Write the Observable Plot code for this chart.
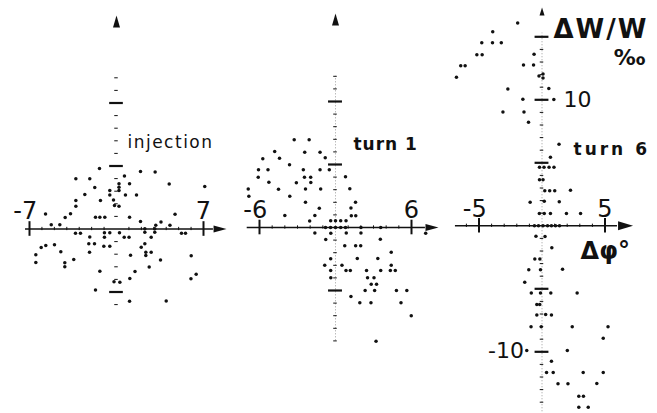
<!DOCTYPE html>
<html>
<head>
<meta charset="utf-8">
<script src="https://cdn.jsdelivr.net/npm/d3@7"></script>
<script src="https://cdn.jsdelivr.net/npm/@observablehq/plot@0.6"></script>
<style>
  body { margin: 0; background: #fff; }
  #chart { position: relative; width: 657px; height: 413px; background: #fff; overflow: hidden; }
</style>
</head>
<body>
<div id="chart"></div>
<script>
// ---- Data: phase-space points [Δφ (deg), ΔW/W (‰)] ----
const injection = [
  [-1.37,4.80],[0.64,4.21],[1.93,4.56],[3.11,4.52],[-3.27,3.98],[-2.15,3.98],[-1.75,3.29],[1.05,3.59],[4.24,3.57],[7.10,3.37],
  [-2.55,2.74],[-1.29,2.26],[-0.54,3.06],[-0.54,2.70],[0.20,3.59],[0.20,3.32],[0.20,3.06],[0.72,2.70],[1.61,2.70],[-3.27,2.26],
  [-3.27,1.81],[-0.24,2.30],[-0.16,1.87],[0.20,1.81],[-3.70,1.21],[-4.13,0.91],[-5.71,1.19],[-5.25,0.33],[-4.56,0.33],[-1.69,0.94],
  [-1.34,0.94],[-0.94,0.94],[1.05,0.94],[1.93,0.60],[3.58,0.56],[3.16,0.30],[4.30,0.30],[4.71,1.17],
  [-3.30,-0.33],[-2.90,-0.33],[-2.15,-0.63],[-2.23,-1.17],[-1.77,-1.17],[-2.17,-1.84],[-0.97,-0.30],[-0.97,-0.65],[-1.02,-1.37],[-0.54,-1.37],
  [-0.54,-0.30],[0.24,-0.30],[0.62,-0.65],[1.01,-0.65],[2.28,0.02],[2.28,-0.25],[3.08,0.02],[3.08,-0.25],[2.79,-0.65],[5.23,-0.33],[5.55,-0.33],
  [2.28,-1.17],[1.99,-1.44],[2.36,-1.84],[2.36,-2.10],[2.79,-1.84],[1.13,-2.08],[3.54,-2.46],[6.01,-2.13],[2.63,-3.02],[1.49,-3.37],[1.07,-3.93],
  [6.41,-3.60],[5.99,-3.95],[-0.20,-4.19],[0.27,-4.22],[1.05,-5.73],[4.00,-5.71],[-5.69,-1.31],[-6.06,-1.47],[-4.99,-1.25],[-6.49,-2.05],
  [-6.49,-2.66],[-4.48,-1.81],[-4.16,-2.68],[-4.16,-3.00],[-3.44,-2.42],[-1.34,-3.35],[-1.69,-4.84]
];
const turn1 = [
  [-3.26,6.97],[-2.08,6.97],[-4.80,6.03],[-2.43,5.97],[-1.22,5.97],[-5.74,5.46],[-4.42,5.49],[-0.81,5.53],[-3.63,4.98],[-6.08,4.58],
  [-5.33,4.58],[-2.54,4.58],[-1.22,4.58],[-0.49,4.58],[-6.10,3.99],[-5.26,3.60],[-2.45,3.98],[-1.96,3.98],[-3.09,3.55],[-1.95,3.57],
  [0.79,4.02],[-6.89,3.06],[-4.50,3.04],[-2.37,3.06],[-1.17,3.06],[1.13,3.07],[-6.84,2.48],[-3.61,2.48],[-2.37,2.01],[1.58,2.01],
  [-1.28,1.53],[1.22,1.55],[-4.00,0.95],[-1.63,0.95],[1.25,0.93],[1.60,0.93],[-2.04,0.52],[-0.38,0.53],[0,0.53],[0.41,0.53],
  [0.83,0.53],[-0.79,0],[-0.39,0],[0,0],[0.41,0],[0.79,0],[2.01,0],[3.57,0],[-1.63,-0.44],[-0.37,-0.46],
  [0.85,-0.44],[2.01,-0.44],[-0.77,-0.95],[3.54,-0.93],[0.73,-1.45],[1.59,-1.45],[1.99,-1.45],[4.40,-1.96],[-0.38,-2.48],[1.72,-2.46],
  [3.34,-2.46],[-0.85,-2.99],[0.51,-2.99],[4.40,-2.99],[-0.38,-3.41],[0.83,-3.41],[1.17,-3.41],[2.45,-3.41],[3.57,-3.41],[4.33,-3.41],
  [4.72,-3.41],[-0.37,-3.99],[2.53,-3.99],[3.04,-3.99],[2.82,-4.50],[3.24,-4.50],[2.34,-5.00],[3.09,-5.00],[4.81,-5.00],[5.63,-5.00],
  [1.22,-5.48],[1.92,-5.98],[2.80,-5.98],[5.17,-5.97],[5.98,-7.00],[3.20,-9.02],[7.12,-0.46]
];
const turn6 = [
  [-1.93,16.10],[-3.91,15.40],[-4.78,14.53],[-3.93,14.53],[-3.23,14.53],[-5.17,13.58],[-4.75,13.58],[-6.45,12.71],[-6.10,12.71],[-6.79,11.79],
  [-0.63,13.62],[-1.47,12.76],[-0.67,12.76],[-0.24,11.89],[0.08,12.05],[0.08,11.73],[-2.71,10.86],[0.54,10.90],[-1.52,10.04],[0.94,10.02],
  [-3.10,9.03],[-1.43,9.03],[-1.07,8.22],[1.35,6.48],[0.67,5.44],[-0.20,4.65],[0.16,4.65],[0.56,4.65],[0.95,4.65],[-0.20,3.66],
  [0.08,3.66],[0.22,2.79],[0.61,2.79],[1.01,2.79],[2.26,2.83],[-0.94,1.87],[0.18,1.94],[1.37,1.90],[-0.21,0.98],[0.18,0.98],
  [0.67,0.98],[1.94,0.98],[3.06,0.98],[-0.60,0],[-0.28,0],[0.08,0],[0.44,0],[0.75,0],[1.07,0],[1.39,0],
  [-0.48,-0.83],[0.24,-0.85],[0.78,-1.75],[-0.57,-2.63],[-0.17,-2.63],[-1.05,-3.49],[-0.12,-3.49],[1.63,-3.45],[-1.37,-4.48],[-0.85,-5.33],
  [-0.12,-5.33],[0.70,-5.33],[2.79,-5.33],[-0.41,-6.25],[-0.18,-6.25],[-0.41,-7.08],[0.29,-7.04],[0.75,-7.08],[-0.87,-8.02],[-0.06,-8.02],
  [2.40,-8.02],[5.24,-8.02],[4.86,-8.93],[-1.21,-9.90],[2.01,-9.90],[0.75,-10.75],[0.36,-11.64],[0.89,-11.64],[3.27,-11.64],[4.86,-11.64],
  [1.27,-12.54],[2.06,-12.54],[4.35,-12.52],[2.92,-13.52],[3.29,-13.52],[2.92,-14.40],[3.67,-14.40]
];

// ---- Tick values and labels ----
const p1XTicks = [-7, 7], p1XLabels = ["-7", "7"];
const p2XTicks = [-6, 6], p2XLabels = ["-6", "6"];
const p3XTicks = [-5, 5], p3XLabels = ["-5", "5"];
const p3YLabelTicks = [10, -10], p3YLabels = ["10", "-10"];
const p1MajorY = [-5, 5, 10];
const p2MajorY = [-5, 5, 10];
const p3MajorY = [-15, -10, -5, 5, 10, 15];
const p1MinorY = d3.range(-6, 13).filter(v => v !== 0 && !p1MajorY.includes(v));
const p2MinorY = d3.range(-9, 13).filter(v => v !== 0 && !p2MajorY.includes(v));
const p3MinorY = d3.range(-15, 16).filter(v => v !== 0 && !p3MajorY.includes(v));
const p1MinorX = d3.range(-6, 7).filter(v => v !== 0);
const p2MinorX = d3.range(-5, 6).filter(v => v !== 0);
const p3MinorX = d3.range(-6, 5).filter(v => v !== 0 && v !== -5);
const panelTitles = ["injection", "turn 1", "turn 6"];
const yTitle = "ΔW/W", yUnit = "‰", xTitle = "Δφ°";

// ---- Style ----
const ink = "#111";
const FONT = "DejaVu Sans";
const arrowRight = {draw(c){ c.moveTo(7,0); c.lineTo(-6,-3.5); c.lineTo(-6,3.5); c.closePath(); }};
const arrowRightBig = {draw(c){ c.moveTo(7.5,0); c.lineTo(-7.5,-4.5); c.lineTo(-7.5,4.5); c.closePath(); }};
const arrowUp = {draw(c){ c.moveTo(0,-6); c.lineTo(3.5,6); c.lineTo(-3.5,6); c.closePath(); }};
const arrowUpSmall = {draw(c){ c.moveTo(0,-4); c.lineTo(2.5,4); c.lineTo(-2.5,4); c.closePath(); }};

function label(text, x, y, o) {
  const fs = o.fontSize;
  return Plot.text([text], {
    x, y, text: d => d, fill: ink, fontFamily: FONT,
    fontSize: fs, fontWeight: o.fontWeight || "normal",
    textAnchor: o.anchor || "start", lineAnchor: "middle",
    dx: o.dx || 0, dy: -0.32 * fs
  });
}

function panel(o) {
  const marks = [
    Plot.ruleY([0], {x1: o.xStart, x2: o.xEnd, stroke: ink, strokeWidth: 1.4}),
    Plot.dot([o.arrowX], {x: d => d, y: 0, symbol: o.rightSym, r: 3, fill: ink, stroke: "none"}),
    Plot.ruleX(o.minorX, {x: d => d, y1: -0.13, y2: 0.13, stroke: ink, strokeWidth: 1}),
    Plot.ruleX(o.majorX, {x: d => d, y1: -0.58, y2: 0.58, stroke: ink, strokeWidth: 2})
  ];
  if (o.vline) marks.push(Plot.ruleX([0], {y1: o.vline[0], y2: o.vline[1], stroke: "#888", strokeWidth: 0.7, strokeDasharray: "1.2,1.8"}));
  marks.push(
    Plot.ruleY(o.minorY, {y: d => d, x1: -0.14, x2: 0.14, stroke: ink, strokeWidth: 1}),
    Plot.ruleY(o.majorY, {y: d => d, x1: -0.55, x2: 0.55, stroke: ink, strokeWidth: 2.2}),
    Plot.dot([o.arrowY], {x: 0, y: d => d, symbol: o.upSym, r: 3, fill: ink, stroke: "none"}),
    Plot.dot(o.points, {x: d => d[0], y: d => d[1], r: 1.75, fill: ink, stroke: "none"})
  );
  o.xTicks.forEach((v, i) => {
    const neg = v < 0;
    marks.push(label(o.xLabels[i], v, o.xLabelY, {fontSize: 24, anchor: neg ? "end" : "middle", dx: neg ? 7.8 : 0}));
  });
  o.extra.forEach(m => marks.push(m));
  return Plot.plot({
    width: o.width, height: 413, margin: 0,
    x: {domain: o.xDomain, range: o.xRange, axis: null},
    y: {domain: [-5, 5], range: o.yRange, axis: null},
    style: {background: "transparent", overflow: "visible", position: "absolute", left: o.left + "px", top: "0px"},
    marks
  });
}

const chart = document.getElementById("chart");

const s1 = panel({
  width: 225, left: 0, xDomain: [-7, 7], xRange: [29, 203], yRange: [291.5, 165.5],
  xStart: -7.32, xEnd: 7.80, arrowX: 8.29, rightSym: arrowRight,
  minorX: p1MinorX, majorX: p1XTicks, minorY: p1MinorY, majorY: p1MajorY,
  arrowY: 16.47, upSym: arrowUp, vline: null, points: injection,
  xTicks: p1XTicks, xLabels: p1XLabels, xLabelY: 0.83,
  extra: [label(panelTitles[0], 0.88, 6.39, {fontSize: 17})]
});
const s2 = panel({
  width: 215, left: 225, xDomain: [-6, 6], xRange: [34, 186], yRange: [290, 164],
  xStart: -6.97, xEnd: 7.10, arrowX: 7.58, rightSym: arrowRight,
  minorX: p2MinorX, majorX: p2XTicks, minorY: p2MinorY, majorY: p2MajorY,
  arrowY: 16.51, upSym: arrowUp, vline: [-9, 12], points: turn1,
  xTicks: p2XTicks, xLabels: p2XLabels, xLabelY: 0.79,
  extra: [label(panelTitles[1], 1.42, 6.15, {fontSize: 17, fontWeight: "bold"})]
});
const s3 = panel({
  width: 217, left: 440, xDomain: [-5, 5], xRange: [38.5, 164.5], yRange: [288.3, 162.3],
  xStart: -6.87, xEnd: 5.99, arrowX: 6.63, rightSym: arrowRightBig,
  minorX: p3MinorX, majorX: p3XTicks, minorY: p3MinorY, majorY: p3MajorY,
  arrowY: 17.0, upSym: arrowUpSmall, vline: [-15, 15.3], points: turn6,
  xTicks: p3XTicks, xLabels: p3XLabels, xLabelY: 0.68,
  extra: [
    label(panelTitles[2], 2.5, 5.63, {fontSize: 17, fontWeight: "bold"}),
    label(p3YLabels[0], 1.71, 9.39, {fontSize: 22}),
    label(p3YLabels[1], -1.43, -10.53, {fontSize: 22, anchor: "end"}),
    label(yTitle, 0.91, 14.94, {fontSize: 26, fontWeight: "bold"}),
    label(yUnit, 5.7, 12.80, {fontSize: 22, fontWeight: "bold"}),
    label(xTitle, 3.06, -2.6, {fontSize: 24, fontWeight: "bold"})
  ]
});
[s1, s2, s3].forEach(s => chart.appendChild(s));

// letter spacing for hand-lettered labels
const spacing = {"injection": "1.5px", "turn 1": "1px", "turn 6": "3px", "ΔW/W": "2px"};
d3.select(chart).selectAll("text").each(function() {
  const sp = spacing[this.textContent];
  if (sp) this.style.letterSpacing = sp;
});
</script>
</body>
</html>
